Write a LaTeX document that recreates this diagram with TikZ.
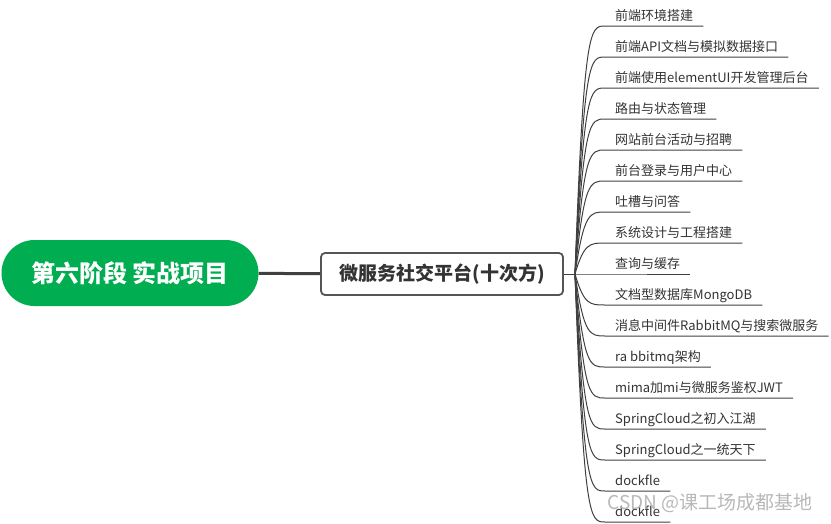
\documentclass[tikz,border=0pt]{standalone}
\usepackage{fontspec}
\setmainfont{Noto Sans CJK SC}
\usepackage{tikz}
\usetikzlibrary{calc}
\definecolor{cgreen}{HTML}{00AD50}
\definecolor{cline}{HTML}{404040}
\definecolor{cbox}{HTML}{555555}
\definecolor{ctext}{HTML}{333333}

\begin{document}
\begin{tikzpicture}[
  x=1pt, y=-1pt,
  root/.style={rectangle, rounded corners=33pt, fill=cgreen, text=white,
               minimum width=257pt, minimum height=66pt,
               font=\fontsize{24}{24}\selectfont\bfseries},
  topic/.style={rectangle, rounded corners=4pt, draw=cbox, line width=1.8pt, fill=white,
                minimum width=242pt, minimum height=42pt, text=ctext,
                font=\fontsize{19}{19}\selectfont\bfseries},
  leaf/.style={anchor=south west, inner xsep=10pt, inner ysep=5pt,
               text height=10pt, text depth=0pt, text=ctext,
               font=\fontsize{13}{13}\selectfont},
  trunk/.style={draw=cline, line width=3pt},
  stemline/.style={draw=cline, line width=1pt},
  branch/.style={draw=cline, line width=1pt,
    to path={.. controls ($(\tikztostart |- \tikztotarget)+(9,0)$)
             and ($(\tikztostart |- \tikztotarget)+(15,0)$) .. (\tikztotarget) \tikztonodes}},
  wmark/.style={text=black!28, font=\fontsize{19}{19}\selectfont}
]
\useasboundingbox (0,0) rectangle (831,523);

% Root and topic
\node[root] (stage) at (130,273) {第六阶段 实战项目};
\node[topic] (proj) at (442,274) {微服务社交平台(十次方)};
\coordinate (stem) at (575,274);

\draw[trunk] (stage) -- (proj);
\draw[stemline] (proj.east) -- (stem);

% Leaves
\node[leaf] (env) at (605,26) {前端环境搭建};
\node[leaf] (api) at (605,57) {前端API文档与模拟数据接口};
\node[leaf] (admin) at (605,88) {前端使用elementUI开发管理后台};
\node[leaf] (route) at (605,119) {路由与状态管理};
\node[leaf] (recruit) at (605,150) {网站前台活动与招聘};
\node[leaf] (login) at (605,181) {前台登录与用户中心};
\node[leaf] (spit) at (605,212) {吐槽与问答};
\node[leaf] (design) at (605,243) {系统设计与工程搭建};
\node[leaf] (cache) at (605,274) {查询与缓存};
\node[leaf] (mongo) at (605,305) {文档型数据库MongoDB};
\node[leaf] (mq) at (605,336) {消息中间件RabbitMQ与搜索微服务};
\node[leaf] (rabbit) at (605,367) {ra bbitmq架构};
\node[leaf] (jwt) at (605,398) {mima加mi与微服务鉴权JWT};
\node[leaf] (cloudA) at (605,429) {SpringCloud之初入江湖};
\node[leaf] (cloudB) at (605,460) {SpringCloud之一统天下};
\node[leaf] (dockA) at (605,491) {dockfle};
\node[leaf] (dockB) at (605,522) {dockfle};

% Branches
\draw[branch] (stem) to (env.south west) -- (env.south east);
\draw[branch] (stem) to (api.south west) -- (api.south east);
\draw[branch] (stem) to (admin.south west) -- (admin.south east);
\draw[branch] (stem) to (route.south west) -- (route.south east);
\draw[branch] (stem) to (recruit.south west) -- (recruit.south east);
\draw[branch] (stem) to (login.south west) -- (login.south east);
\draw[branch] (stem) to (spit.south west) -- (spit.south east);
\draw[branch] (stem) to (design.south west) -- (design.south east);
\draw[branch] (stem) -- (cache.south west) -- (cache.south east);
\draw[branch] (stem) to (mongo.south west) -- (mongo.south east);
\draw[branch] (stem) to (mq.south west) -- (mq.south east);
\draw[branch] (stem) to (rabbit.south west) -- (rabbit.south east);
\draw[branch] (stem) to (jwt.south west) -- (jwt.south east);
\draw[branch] (stem) to (cloudA.south west) -- (cloudA.south east);
\draw[branch] (stem) to (cloudB.south west) -- (cloudB.south east);
\draw[branch] (stem) to (dockA.south west) -- (dockA.south east);
\draw[branch] (stem) to (dockB.south west) -- (dockB.south east);

% Watermark
\node[wmark] (csdn) at (710,503) {CSDN @课工场成都基地};

\end{tikzpicture}
\end{document}
